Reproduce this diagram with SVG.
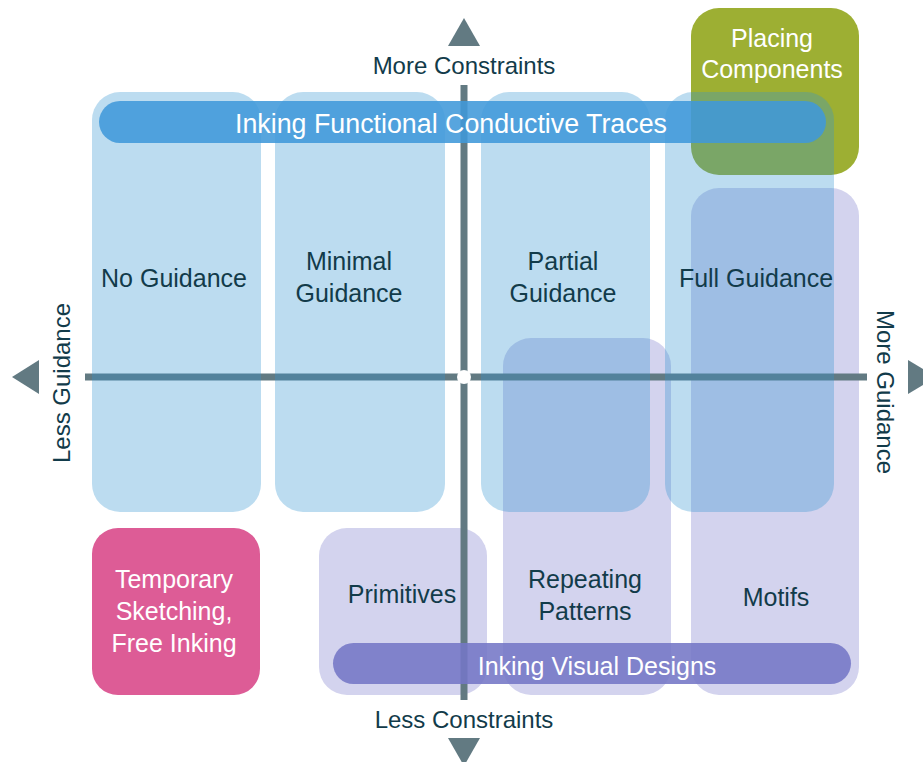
<svg xmlns="http://www.w3.org/2000/svg" width="923" height="762" viewBox="0 0 923 762">
<style>
.t{font-family:"Liberation Sans",Arial,sans-serif;font-size:25px;fill:#123b4a;text-anchor:middle}
.w{fill:#ffffff}
.ax{font-size:24px}
.bar{font-size:26.8px}
.lav{fill:#d3d3ee}
.col{fill:#3594d1;fill-opacity:0.33}
.axis{fill:#627a82}
</style>
<rect width="923" height="762" fill="#ffffff"/>
<g id="placing-components"><rect x="691" y="8" width="168" height="167" rx="28" fill="#9daf33"/></g>
<g id="temporary-sketching"><rect x="92" y="528" width="168" height="167" rx="26" fill="#dd5c96"/></g>
<g id="primitives"><rect class="lav" x="319" y="528" width="168" height="167" rx="28"/></g>
<g id="repeating-patterns"><rect class="lav" x="503" y="338" width="168" height="357" rx="28"/></g>
<g id="motifs"><rect class="lav" x="691" y="188" width="168" height="507" rx="28"/></g>
<g id="connectors">
<rect class="axis" x="460.5" y="85" width="7" height="615"/>
<rect class="axis" x="85" y="373.5" width="782" height="7"/>
<polygon class="axis" points="464,18 448,46 480,46"/>
<polygon class="axis" points="464,766 448,738 480,738"/>
<polygon class="axis" points="12,377 39,360 39,394"/>
<polygon class="axis" points="936,377 908,360 908,394"/>
<circle cx="464" cy="377" r="7" fill="#ffffff"/>
</g>
<g id="no-guidance"><rect class="col" x="92" y="92" width="169" height="420" rx="28"/></g>
<g id="minimal-guidance"><rect class="col" x="275" y="92" width="170" height="420" rx="28"/></g>
<g id="partial-guidance"><rect class="col" x="481" y="92" width="169" height="420" rx="28"/></g>
<g id="full-guidance"><rect class="col" x="665" y="92" width="169" height="420" rx="28"/></g>
<g id="inking-functional"><rect x="99" y="101" width="727" height="42" rx="21" fill="#4098d9" fill-opacity="0.88"/></g>
<g id="inking-visual"><rect x="333" y="643" width="518" height="41" rx="20.5" fill="#7476c6" fill-opacity="0.88"/></g>
<g id="labels">
<text class="t ax" x="464" y="74">More Constraints</text>
<text class="t ax" x="464" y="728">Less Constraints</text>
<text class="t ax" transform="translate(70,383) rotate(-90)">Less Guidance</text>
<text class="t ax" transform="translate(877,392) rotate(90)">More Guidance</text>
<text class="t w bar" x="451" y="133">Inking Functional Conductive Traces</text>
<text class="t w" x="597" y="675">Inking Visual Designs</text>
<text class="t" x="174" y="287">No Guidance</text>
<text class="t" x="349" y="270">Minimal</text>
<text class="t" x="349" y="302">Guidance</text>
<text class="t" x="563" y="270">Partial</text>
<text class="t" x="563" y="302">Guidance</text>
<text class="t" x="756" y="287">Full Guidance</text>
<text class="t w" x="772" y="47">Placing</text>
<text class="t w" x="772" y="78">Components</text>
<text class="t w" x="174" y="588">Temporary</text>
<text class="t w" x="174" y="620">Sketching,</text>
<text class="t w" x="174" y="652">Free Inking</text>
<text class="t" x="402" y="603">Primitives</text>
<text class="t" x="585" y="588">Repeating</text>
<text class="t" x="585" y="620">Patterns</text>
<text class="t" x="776" y="606">Motifs</text>
</g>
</svg>
